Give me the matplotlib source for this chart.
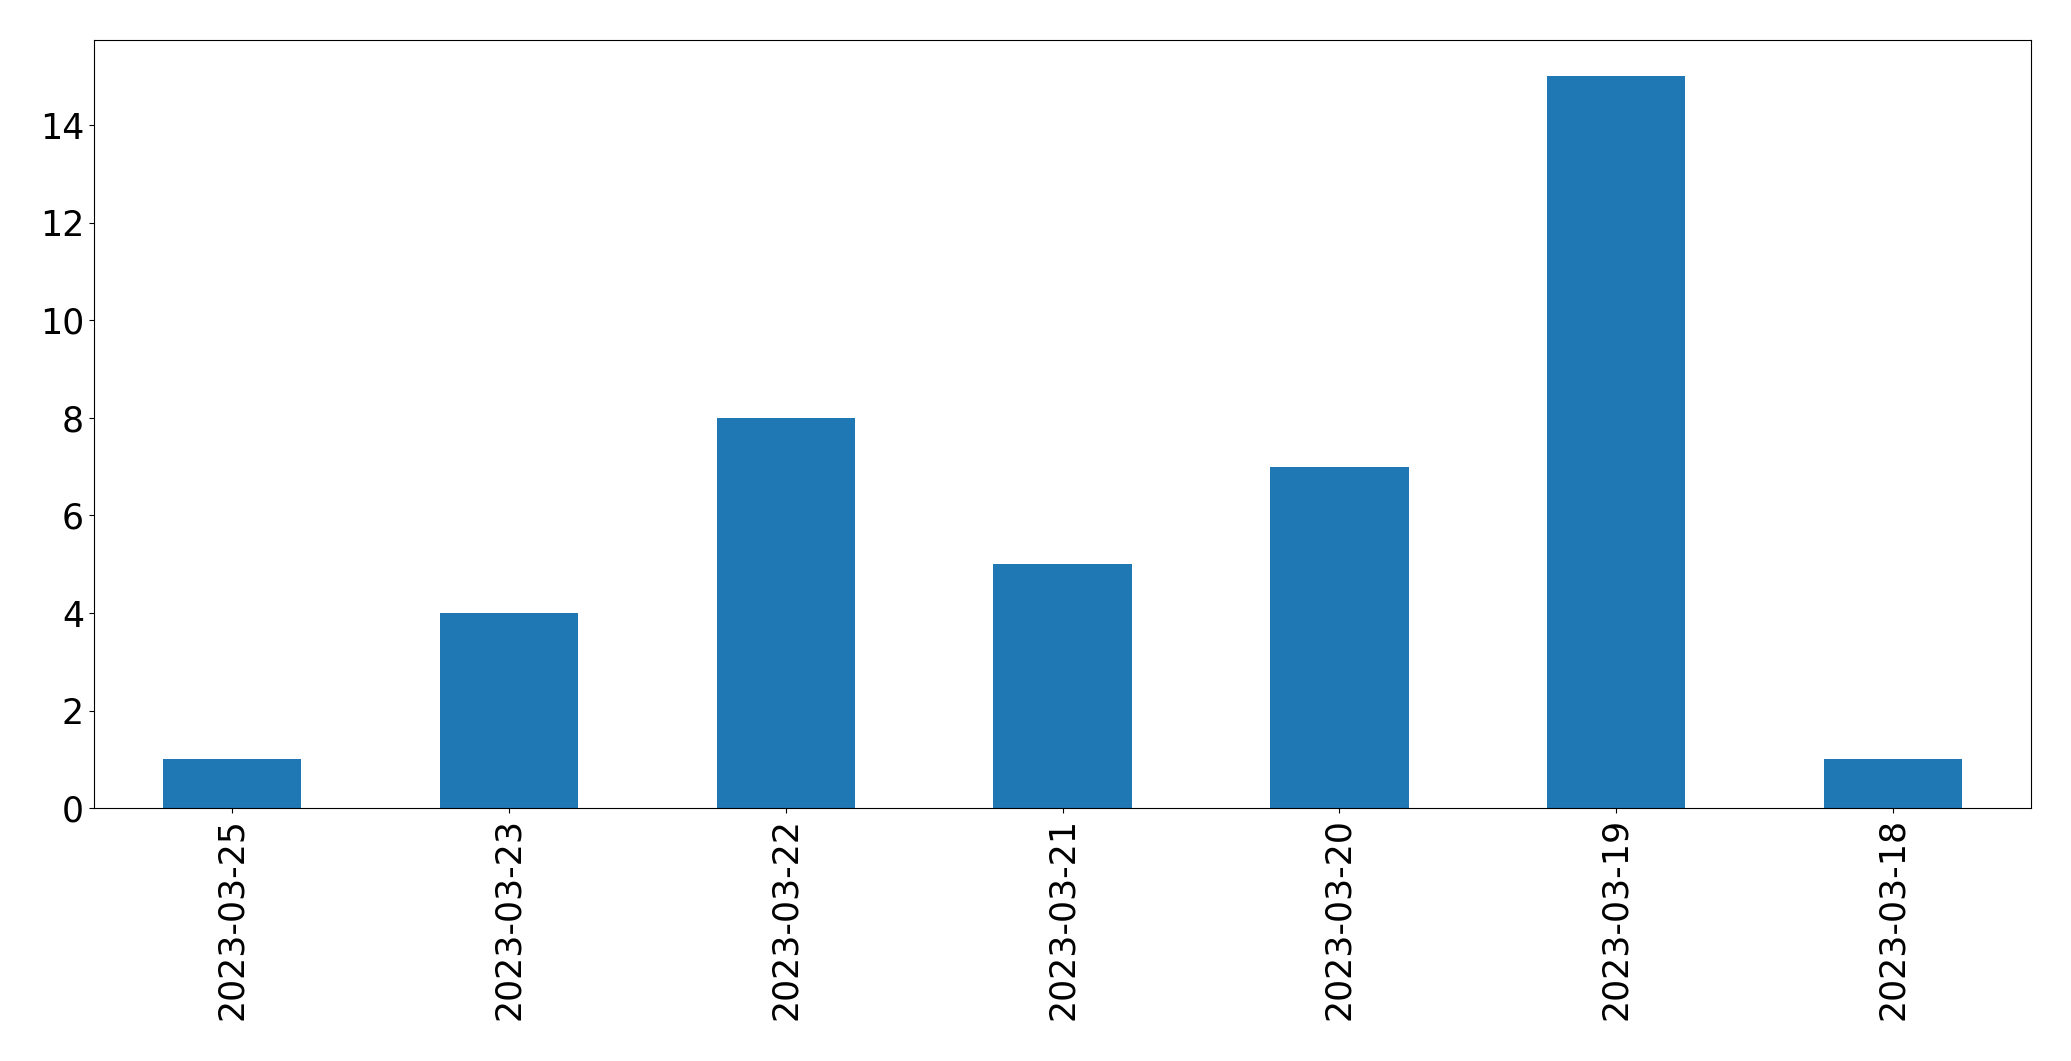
import pandas as pd
import matplotlib
matplotlib.use('Agg')
import matplotlib.pyplot as plt

# Counts per day (reverse date order as in the source)
dates = ['2023-03-25', '2023-03-23', '2023-03-22', '2023-03-21',
         '2023-03-20', '2023-03-19', '2023-03-18']
counts = [1, 4, 8, 5, 7, 15, 1]

s = pd.Series(counts, index=dates)

fig, ax = plt.subplots(figsize=(20.71, 10.61), dpi=100)
s.plot(kind='bar', ax=ax, color='#1f77b4', fontsize=25)
fig.subplots_adjust(left=93.8 / 2071, right=2031.4 / 2071,
                    top=1 - 39.6 / 1061, bottom=1 - 808.3 / 1061)
fig.savefig('out.png', dpi=100)
